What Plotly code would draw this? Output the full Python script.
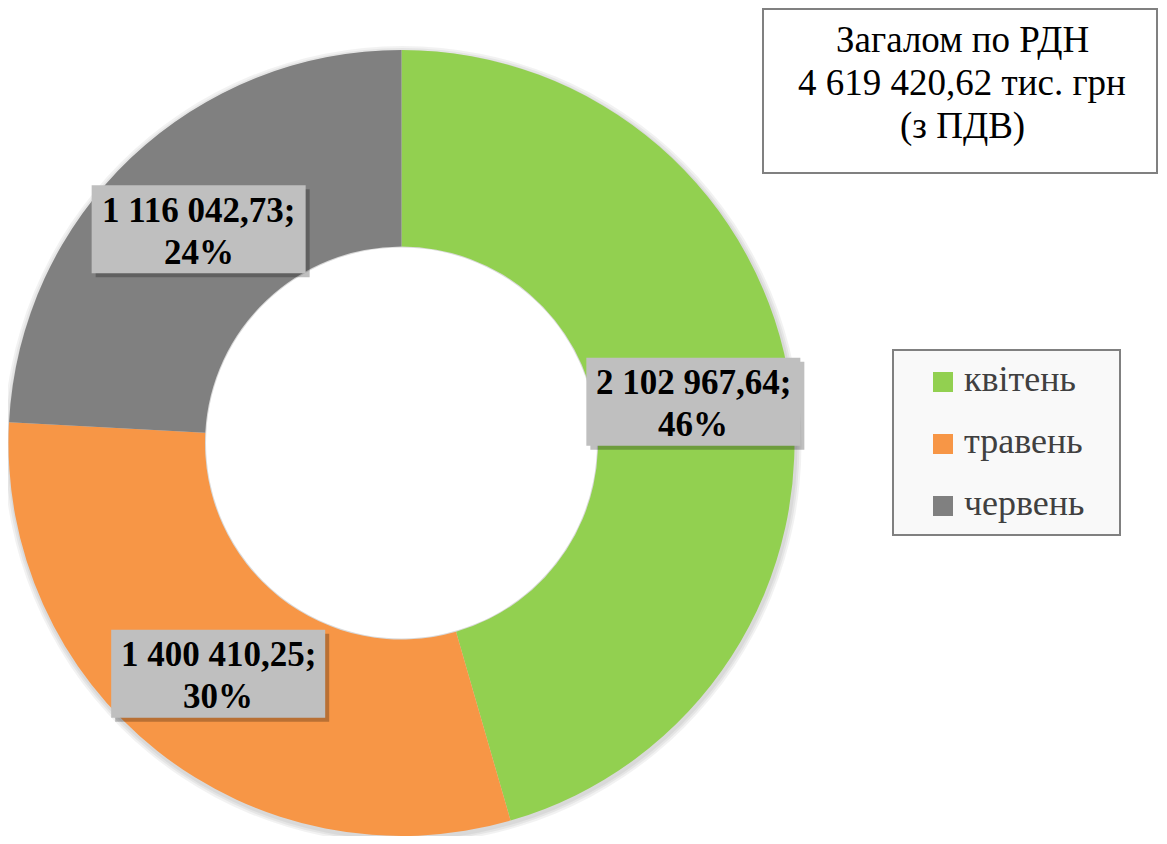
import numpy as np
import plotly.graph_objects as go

# data
months = ["квітень", "травень", "червень"]
values = [2102967.64, 1400410.25, 1116042.73]
colors = ["#92d050", "#f79646", "#808080"]
total_lines = ["Загалом по РДН", "4 619 420,62 тис. грн", "(з ПДВ)"]

W, H = 1167, 844
OFF = 8                              # default body margin of the html page
FW, FH = W - 2 * OFF, H - 2 * OFF    # figure size, no page overflow
cx, cy, R = 401.5, 443, 393          # donut centre / radius in page px
HOLE = 0.5
FONT = "Liberation Serif, Times New Roman, serif"


def px(x, y):
    """page pixel -> paper coords"""
    return (x - OFF) / FW, 1 - (y - OFF) / FH


def rect(x0, y0, x1, y1, kind="rect", **kw):
    a, b = px(x0, y0)
    c, d = px(x1, y1)
    return dict(type=kind, xref="paper", yref="paper", x0=a, x1=c, y0=d, y1=b, **kw)


def text(x, y, s, size, color="black", xanchor="center"):
    a, b = px(x, y)
    return dict(x=a, y=b, xref="paper", yref="paper", showarrow=False, text=s,
                xanchor=xanchor, yanchor="middle",
                font=dict(family=FONT, size=size, color=color))


def fmt(v):
    return f"{v:,.2f}".replace(",", " ").replace(".", ",")


fig = go.Figure()
dx0, dy1 = px(cx - R, cy - R)
dx1, dy0 = px(cx + R, cy + R)
fig.add_trace(go.Pie(
    labels=months, values=values, hole=HOLE, sort=False, direction="clockwise",
    marker=dict(colors=colors, line=dict(width=0)),
    textinfo="none", hoverinfo="label+value+percent", showlegend=False,
    domain=dict(x=[max(dx0, 0), min(dx1, 1)], y=[max(dy0, 0), min(dy1, 1)]),
))

shapes = []
annotations = []

# soft shadow around the donut, hole kept white
for k in (6, 4, 2):
    shapes.append(rect(cx - R - k + 1, cy - R - k + 2, cx + R + k + 1, cy + R + k + 2, kind="circle",
                       fillcolor="rgba(0,0,0,0.05)", line=dict(width=0), layer="below"))
r0 = HOLE * R - 1
shapes.append(rect(cx - r0, cy - r0, cx + r0, cy + r0, kind="circle",
                   fillcolor="white", line=dict(width=0), layer="below"))

# data labels in grey boxes at slice mid-angles
total = sum(values)
cum = 0
bw, bh = 214, 88
for v in values:
    frac = v / total
    mid = (cum + frac / 2) * 2 * np.pi
    cum += frac
    lx = cx + 0.75 * R * np.sin(mid)
    ly = cy - 0.75 * R * np.cos(mid)
    shapes.append(rect(lx - bw / 2 + 4, ly - bh / 2 + 4, lx + bw / 2 + 4, ly + bh / 2 + 4,
                       fillcolor="rgba(0,0,0,0.25)", line=dict(width=0), layer="above"))
    shapes.append(rect(lx - bw / 2, ly - bh / 2, lx + bw / 2, ly + bh / 2,
                       fillcolor="#bfbfbf", line=dict(width=0), layer="above"))
    annotations.append(text(lx, ly - 19, f"<b>{fmt(v)};</b>", 35))
    annotations.append(text(lx, ly + 23, f"<b>{round(frac * 100)}%</b>", 35))

# title box
shapes.append(rect(763, 9, 1157, 173, fillcolor="white", line=dict(color="#808080", width=2)))
for i, line in enumerate(total_lines):
    annotations.append(text(962, 40 + 43 * i, line, 37))

# legend box
shapes.append(rect(893, 350, 1120, 535, fillcolor="#f9f9f9", line=dict(color="#808080", width=2)))
for i, (m, c) in enumerate(zip(months, colors)):
    yc = 382 + 62 * i
    shapes.append(rect(933, yc - 10, 953, yc + 10, fillcolor=c, line=dict(width=0)))
    annotations.append(text(962, yc - 3, m, 36, color="#404040", xanchor="left"))

fig.update_layout(
    width=FW, height=FH, margin=dict(l=0, r=0, t=0, b=0),
    paper_bgcolor="white", plot_bgcolor="white",
    shapes=shapes, annotations=annotations,
)

fig.write_html("out.html")
